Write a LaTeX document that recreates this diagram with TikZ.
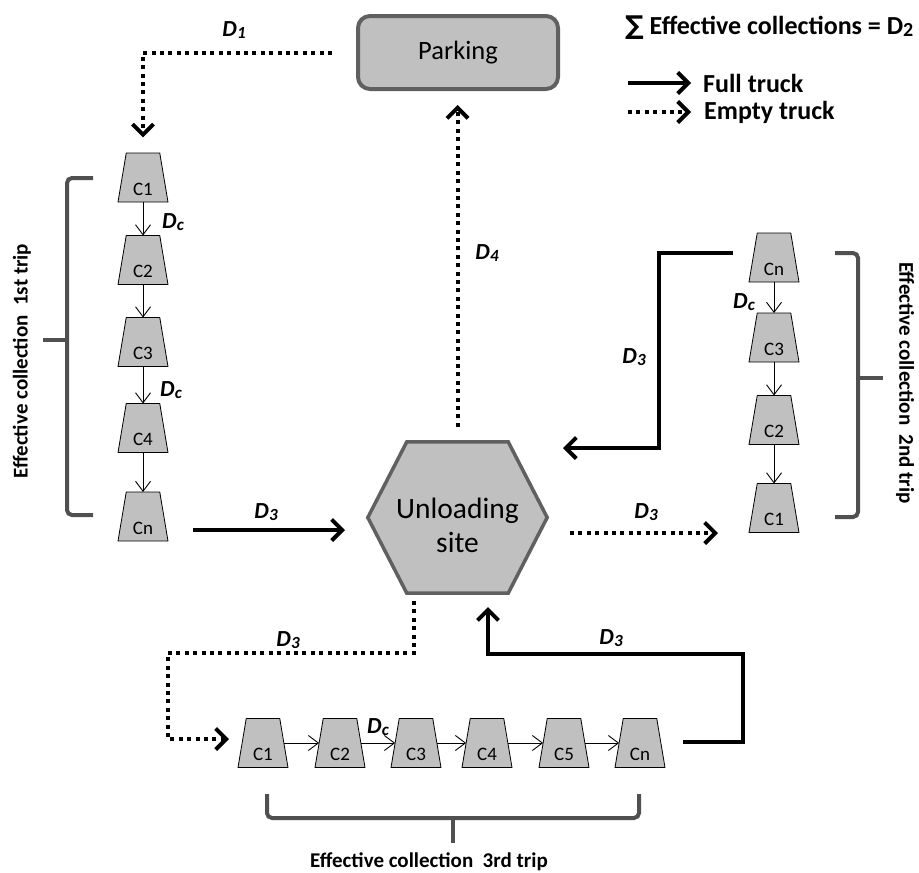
\documentclass[tikz,border=0pt]{standalone}
\usepackage{fontspec}
\setmainfont{Carlito}
\newfontfamily\dejavu{DejaVu Sans}
\usetikzlibrary{arrows.meta,shapes.geometric,calc}

\definecolor{boxgray}{HTML}{C0C0C0}
\definecolor{edgegray}{HTML}{606060}
\definecolor{brgray}{HTML}{505050}

\newcommand{\Dl}[1]{\textbf{\textit{D\kern0.01em\raisebox{-0.2ex}{\fontsize{17}{17}\selectfont #1}}}}

\tikzset{
  x=1pt, y=-1pt,
  bin/.style={trapezium, trapezium angle=76.2, trapezium stretches=true,
    minimum width=50pt, minimum height=49pt, inner sep=2pt, outer sep=0pt,
    draw=black, line width=0.8pt, fill=boxgray,
    label={[font=\fontsize{19}{19}\selectfont, yshift=-11.5pt]center:#1}},
  full/.style={line width=4pt, -{Straight Barb[length=10.5pt,width=21pt]}},
  empty/.style={line width=4pt, dash pattern=on 4pt off 4.4pt, -{Straight Barb[length=10.5pt,width=21pt]}},
  thinarr/.style={line width=0.9pt, -{Straight Barb[length=10pt,width=15pt]}},
  bracket/.style={draw=brgray, line width=4pt, rounded corners=5pt},
  dlab/.style={font=\fontsize{23}{23}\selectfont, inner sep=0pt},
  brlab/.style={font=\fontsize{21}{21}\selectfont\bfseries, inner sep=0pt},
  legtext/.style={font=\fontsize{26}{26}\selectfont\bfseries, inner sep=0pt, anchor=west},
}

\begin{document}
\begin{tikzpicture}
\useasboundingbox (0,0) rectangle (919,873);

% Parking
\node[draw=edgegray, line width=4pt, fill=boxgray, rounded corners=12pt,
      minimum width=200pt, minimum height=73pt,
      font=\fontsize{26.5}{26.5}\selectfont] (park) at (458,52.5) {Parking};

% Unloading site hexagon
\node[minimum width=179pt, minimum height=151pt, inner sep=0pt] (hex) at (457.5,517.5) {};
\draw[draw=edgegray, fill=boxgray, line width=3.5pt]
  ($(hex.north west)+(39,0)$) -- ($(hex.north east)+(-39,0)$) -- (hex.east)
  -- ($(hex.south east)+(-39,0)$) -- ($(hex.south west)+(39,0)$) -- (hex.west) -- cycle;
\node[align=center, font=\fontsize{29.5}{34}\selectfont, inner sep=0pt] (hextxt) at (457.5,525) {Unloading\\site};

% Left column (1st trip)
\node[bin=C1] (L1) at (143,177.5) {};
\node[bin=C2] (L2) at (143,260) {};
\node[bin=C3] (L3) at (143,342) {};
\node[bin=C4] (L4) at (143,428) {};
\node[bin=Cn] (Ln) at (143,516.5) {};
\draw[thinarr] (L1.south) -- (L2.north);
\draw[thinarr] (L2.south) -- (L3.north);
\draw[thinarr] (L3.south) -- (L4.north);
\draw[thinarr] (L4.south) -- (Ln.north);
\node[dlab] (dcl1) at (173,222) {\Dl{c}};
\node[dlab] (dcl2) at (171,390) {\Dl{c}};

% Right column (2nd trip)
\node[bin=Cn] (Rn) at (774,257.5) {};
\node[bin=C3] (R3) at (774,337.5) {};
\node[bin=C2] (R2) at (774,420) {};
\node[bin=C1] (R1) at (774,508) {};
\draw[thinarr] (Rn.south) -- (R3.north);
\draw[thinarr] (R3.south) -- (R2.north);
\draw[thinarr] (R2.south) -- (R1.north);
\node[dlab] (dcr) at (744,302) {\Dl{c}};

% Bottom row (3rd trip)
\node[bin=C1] (B1) at (263,743) {};
\node[bin=C2] (B2) at (340,743) {};
\node[bin=C3] (B3) at (416,743) {};
\node[bin=C4] (B4) at (487,743) {};
\node[bin=C5] (B5) at (564,743) {};
\node[bin=Cn] (Bn) at (640,743) {};
\draw[thinarr] (B1.east) -- (B2.west);
\draw[thinarr] (B2.east) -- (B3.west);
\draw[thinarr] (B3.east) -- (B4.west);
\draw[thinarr] (B4.east) -- (B5.west);
\draw[thinarr] (B5.east) -- (Bn.west);
\node[dlab] (dcb) at (378,727) {\Dl{c}};

% Parking -> first trip (empty)
\draw[empty, shorten <=24pt, shorten >=15.5pt] (park.west) -| (L1.north);
\node[dlab] (d1) at (234,30) {\Dl{1}};

% First trip -> unloading (full)
\coordinate (f1s) at (193,530);
\coordinate (f1e) at (345,530);
\draw[full] (f1s) -- (f1e);
\node[dlab] (d3a) at (266,512) {\Dl{3}};

% Unloading -> second trip (empty)
\coordinate (e2s) at (570,533);
\coordinate (e2e) at (718,533);
\draw[empty] (e2s) -- (e2e);
\node[dlab] (d3b) at (646,512) {\Dl{3}};

% Second trip -> unloading (full)
\coordinate (f2s) at (733,253);
\coordinate (f2k) at (659,448);
\coordinate (f2e) at (563,448);
\draw[full] (f2s) -| (f2k) -- (f2e);
\node[dlab] (d3c) at (634,357) {\Dl{3}};

% Unloading -> parking (empty)
\draw[empty, shorten <=15pt, shorten >=14pt] (hex.north) -- (hex.north |- park.south);
\node[dlab] (d4) at (487,253) {\Dl{4}};

% Unloading -> third trip (empty)
\coordinate (e3s) at (414,601);
\coordinate (e3a) at (414,653);
\coordinate (e3b) at (168,739);
\coordinate (e3e) at (229,739);
\draw[empty] (e3s) -- (e3a) -| (e3b) -- (e3e);
\node[dlab] (d3d) at (288,640) {\Dl{3}};

% Third trip -> unloading (full)
\coordinate (f3s) at (683,742);
\coordinate (f3a) at (743,654);
\coordinate (f3e) at (488,607);
\draw[full] (f3s) -| (f3a) -| (f3e);
\node[dlab] (d3e) at (611,638) {\Dl{3}};

% Brackets
\draw[bracket] (93,178) -- (67,178) -- (67,515) -- (93,515);
\draw[bracket] (43,340) -- (67,340);
\node[brlab, rotate=90] (lab1) at (22,361) {Effective collection\hspace{0.45em}1st trip};

\draw[bracket] (835,253) -- (858,253) -- (858,517) -- (835,517);
\draw[bracket] (858,378) -- (883,378);
\node[brlab, rotate=-90] (lab2) at (905,383) {Effective collection\hspace{0.45em}2nd trip};

\draw[bracket] (267,794) -- (267,818) -- (639,818) -- (639,794);
\draw[bracket] (453,818) -- (453,843);
\node[brlab] (lab3) at (429,862) {Effective collection\hspace{0.45em}3rd trip};

% Legend
\node[legtext, font=\fontsize{26}{26}\selectfont\bfseries] (sum) at (625,28)
  {{\dejavu ∑} Effective collections = D\raisebox{-0.15ex}{\fontsize{20}{20}\selectfont 2}};
\node[legtext] (lgfull) at (703,83) {Full truck};
\node[legtext] (lgempty) at (704,112) {Empty truck};
\draw[full] ($(lgfull.west)+(-75,0)$) -- ($(lgfull.west)+(-12,0)$);
\draw[empty] ($(lgempty.west)+(-76,0)$) -- ($(lgempty.west)+(-13,0)$);
\end{tikzpicture}
\end{document}
